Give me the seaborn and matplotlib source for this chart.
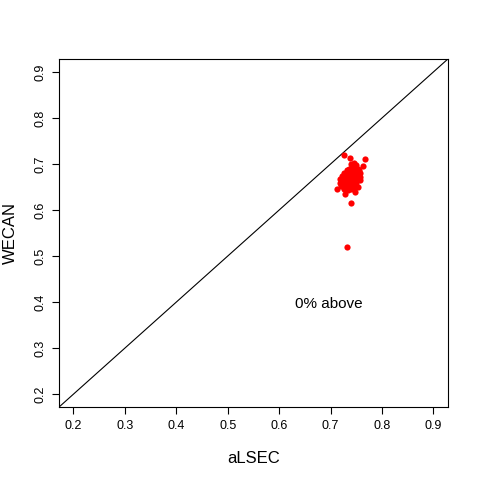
import numpy as np
import pandas as pd
import matplotlib
matplotlib.use('Agg')
import matplotlib.pyplot as plt
import seaborn as sns

# ================= DATA =================
alsec = [0.727, 0.737, 0.766, 0.764, 0.712, 0.729, 0.740, 0.747, 0.754, 0.731,
         0.740, 0.745, 0.750, 0.742, 0.748, 0.753, 0.736, 0.731, 0.739, 0.745,
         0.751, 0.756, 0.727, 0.734, 0.741, 0.747, 0.754, 0.758, 0.722, 0.729,
         0.736, 0.743, 0.750, 0.757, 0.719, 0.725, 0.732, 0.739, 0.746, 0.752,
         0.758, 0.718, 0.724, 0.731, 0.737, 0.744, 0.750, 0.721, 0.728, 0.735,
         0.742, 0.749, 0.733, 0.739, 0.745, 0.726]
wecan = [0.719, 0.713, 0.710, 0.696, 0.645, 0.634, 0.615, 0.640, 0.651, 0.520,
         0.700, 0.702, 0.698, 0.694, 0.692, 0.690, 0.690, 0.686, 0.685, 0.686,
         0.684, 0.686, 0.680, 0.679, 0.678, 0.680, 0.678, 0.680, 0.674, 0.673,
         0.672, 0.673, 0.671, 0.672, 0.667, 0.666, 0.665, 0.666, 0.664, 0.665,
         0.666, 0.659, 0.658, 0.657, 0.659, 0.657, 0.658, 0.652, 0.651, 0.650,
         0.651, 0.652, 0.644, 0.645, 0.646, 0.645]
ticks = [0.2, 0.3, 0.4, 0.5, 0.6, 0.7, 0.8, 0.9]
note = '0% above'

df = pd.DataFrame({'aLSEC': alsec, 'WECAN': wecan})

# ================= PLOT =================
sns.set_style('ticks')
plt.rcParams['font.family'] = ['Liberation Sans', 'DejaVu Sans']
plt.rcParams['text.color'] = 'black'
plt.rcParams['axes.labelcolor'] = 'black'
plt.rcParams['xtick.color'] = 'black'
plt.rcParams['ytick.color'] = 'black'

fig = plt.figure(figsize=(4.8, 4.8), dpi=100)
ax = fig.add_axes([0.123, 0.152, 0.81, 0.725])

ax.plot([0, 1], [0, 1], color='black', linewidth=0.8)
sns.scatterplot(data=df, x='aLSEC', y='WECAN', color='red', s=20,
                linewidth=0, ax=ax, zorder=3)

ax.set_xlim(0.172, 0.928)
ax.set_ylim(0.172, 0.928)
ax.set_xticks(ticks)
ax.set_yticks(ticks)
ax.set_xticklabels([f'{t:.1f}' for t in ticks], fontsize=9)
ax.set_yticklabels([f'{t:.1f}' for t in ticks], fontsize=9, rotation=90, va='center')
ax.tick_params(length=5, width=0.8, color='black', pad=4)
for s in ax.spines.values():
    s.set_visible(True)
    s.set_color('black')
    s.set_linewidth(0.8)

ax.set_xlabel('aLSEC', fontsize=12, labelpad=14)
ax.set_ylabel('WECAN', fontsize=12, labelpad=12)
ax.text(0.696, 0.396, note, ha='center', va='center', fontsize=11)

fig.savefig('out.png', dpi=100)
